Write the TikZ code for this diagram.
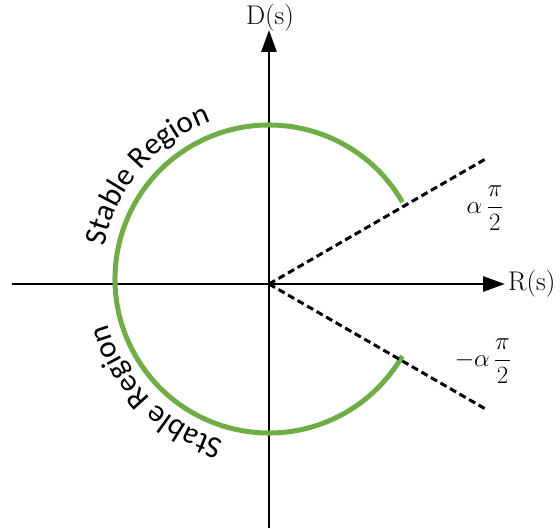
\documentclass[tikz,border=0pt]{standalone}
\usepackage{fontspec}
\usepackage{amsmath}
\newfontfamily\calib{Carlito}
\usetikzlibrary{arrows.meta}
\definecolor{stablegreen}{HTML}{70AD47}
\begin{document}
\begin{tikzpicture}[x=1pt,y=1pt,
  axis/.style={line width=2.8pt,-{Triangle[length=22pt,width=15pt]}},
  axlabel/.style={inner sep=0pt,font=\fontsize{27}{31}\selectfont},
  greenarc/.style={line width=5pt,draw=stablegreen},
  dashline/.style={line width=3pt,dash pattern=on 7pt off 4pt},
  anglabel/.style={inner sep=0pt,font=\fontsize{27}{31}\selectfont},
  letter/.style={anchor=base,inner sep=0pt,font=\calib\fontsize{31}{35}\selectfont}]
\useasboundingbox (-269,-244) rectangle (291,284);
\coordinate (O) at (0,0);
\coordinate (Xs) at (-257,0);
\coordinate (Xe) at (236,0);
\coordinate (Ys) at (0,-244);
\coordinate (Ye) at (0,254);
\draw[axis] (Xs) -- (Xe);
\draw[axis] (Ys) -- (Ye);
\node[axlabel,anchor=west] (R) at (239,0) {R(s)};
\node[axlabel] (D) at (1,266.5) {D(s)};
\coordinate (C) at (0,5);
\draw[greenarc] ([shift={(30:154)}]C) arc[start angle=30,end angle=330,radius=154];
\coordinate (U) at (30:251);
\coordinate (L) at (-30:251);
\draw[dashline] (O) -- (U);
\draw[dashline] (O) -- (L);
\node[anglabel] (ua) at (216,76) {$\alpha\,\dfrac{\pi}{2}$};
\node[anglabel] (la) at (214,-77) {$-\alpha\,\dfrac{\pi}{2}$};
\begin{scope}[shift={(C)}]
\foreach \ch/\o [count=\i] in {S/-2.5425, t/-2.1455, a/-1.7385, b/-1.2365, l/-0.8595, e/-0.496, R/0.2505, e/0.771, g/1.2555, i/1.6055, o/1.9835, n/2.5095} {
  \pgfmathsetmacro\ua{139.5-\o*10.6}
  \pgfmathsetmacro\la{225-\o*10.6}
  \node[letter,rotate=\ua-90] (u\i) at (\ua:168) {\ch};
  \node[letter,rotate=\la-90] (l\i) at (\la:168) {\ch};
}
\end{scope}
\end{tikzpicture}
\end{document}
